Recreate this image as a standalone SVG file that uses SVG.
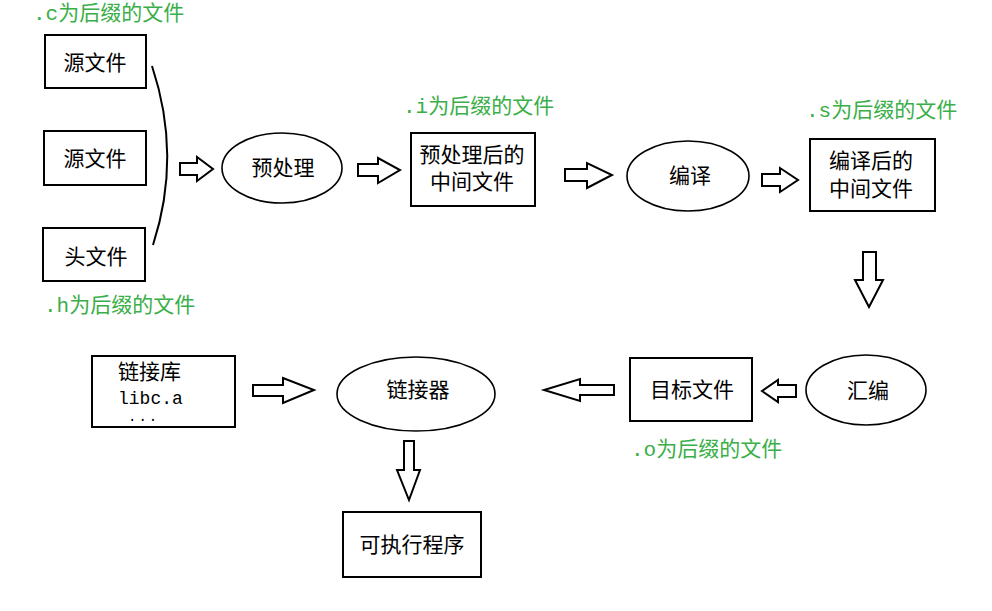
<svg xmlns="http://www.w3.org/2000/svg" width="992" height="611" viewBox="0 0 992 611">
<style>
.box{fill:#fff;stroke:#000;stroke-width:2}
.ell{fill:#fff;stroke:#000;stroke-width:1.6}
.arr{fill:#fff;stroke:#000;stroke-width:2;stroke-linejoin:miter}
.t{font-family:"Liberation Serif","Noto Sans CJK SC",serif;font-size:21px;fill:#000}
.c{text-anchor:middle}
.g{font-family:"Liberation Mono","Noto Sans CJK SC",monospace;font-size:21px;fill:#3aae49}
.m{font-family:"Liberation Mono","Noto Sans CJK SC",monospace;font-size:18px;fill:#000}
.d{font-family:"Liberation Mono",monospace;font-size:14px;letter-spacing:2px;fill:#000}
</style>
<rect width="992" height="611" fill="#fff"/>
<g id="src1"><rect class="box" x="45" y="35" width="101" height="53"/><text class="t c" x="95" y="70">源文件</text></g>
<g id="src2"><rect class="box" x="44" y="131" width="102" height="54"/><text class="t c" x="95" y="166">源文件</text></g>
<g id="hdr"><rect class="box" x="43" y="228" width="102" height="53"/><text class="t c" x="96" y="264">头文件</text></g>
<g id="pre"><ellipse class="ell" cx="282" cy="168" rx="60" ry="35"/><text class="t c" x="283" y="175">预处理</text></g>
<g id="imid"><rect class="box" x="411" y="133" width="124" height="73"/><text class="t c" x="472" y="162">预处理后的</text><text class="t c" x="472" y="189">中间文件</text></g>
<g id="comp"><ellipse class="ell" cx="688" cy="176" rx="61" ry="35"/><text class="t c" x="690" y="183">编译</text></g>
<g id="smid"><rect class="box" x="810" y="139" width="125" height="72"/><text class="t c" x="871" y="168">编译后的</text><text class="t c" x="871" y="196">中间文件</text></g>
<g id="asm"><ellipse class="ell" cx="866" cy="390" rx="60" ry="35"/><text class="t c" x="868" y="398">汇编</text></g>
<g id="obj"><rect class="box" x="630" y="358" width="122" height="63"/><text class="t c" x="692" y="397">目标文件</text></g>
<g id="linker"><ellipse class="ell" cx="416" cy="394" rx="79" ry="37"/><text class="t c" x="418" y="397">链接器</text></g>
<g id="lib"><rect class="box" x="92" y="356" width="143" height="71"/><text class="t" x="118" y="379">链接库</text><text class="m" x="118" y="404">libc.a</text><text class="d" x="128" y="421">...</text></g>
<g id="exe"><rect class="box" x="343" y="512" width="138" height="65"/><text class="t c" x="412" y="552">可执行程序</text></g>
<g id="labels">
<text class="g" x="33" y="20">.c为后缀的文件</text>
<text class="g" x="44" y="312">.h为后缀的文件</text>
<text class="g" x="403" y="113">.i为后缀的文件</text>
<text class="g" x="806" y="117">.s为后缀的文件</text>
<text class="g" x="631" y="456">.o为后缀的文件</text>
</g>
<g id="connectors">
<path d="M152,66 Q182,156 153,245" fill="none" stroke="#000" stroke-width="2"/>
<polygon class="arr" points="180,163 197,163 197,157 213,169 197,181 197,175 180,175"/>
<polygon class="arr" points="358,164 378,164 378,158 400,170 378,183 378,176 358,176"/>
<polygon class="arr" points="565,169 587,169 587,163 612,175 587,188 587,181 565,181"/>
<polygon class="arr" points="762,174 780,174 780,168 798,180 780,192 780,186 762,186"/>
<polygon class="arr" points="863,252 876,252 876,280 883,280 869,307 855,280 863,280"/>
<polygon class="arr" points="796,385 778,385 778,380 762,391 778,402 778,397 796,397"/>
<polygon class="arr" points="614,385 580,385 580,379 544,390 580,401 580,395 614,395"/>
<polygon class="arr" points="253,385 283,385 283,378 314,390 283,403 283,396 253,396"/>
<polygon class="arr" points="404,441 414,441 414,470 420,470 409,500 397,470 404,470"/>
</g>
</svg>
